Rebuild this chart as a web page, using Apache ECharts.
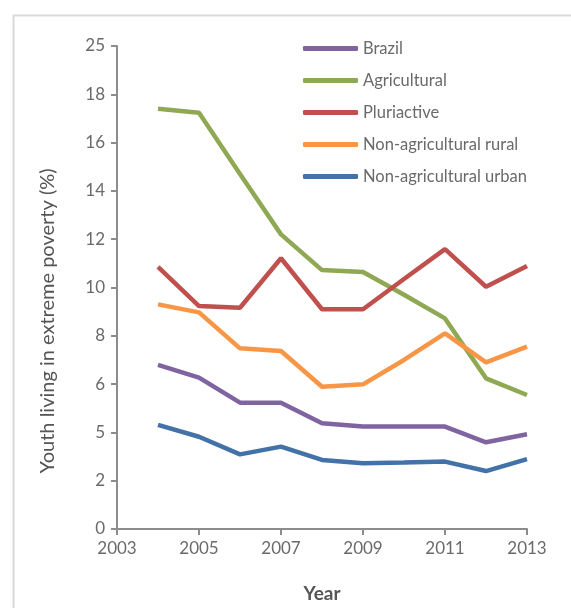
<!DOCTYPE html>
<html>
<head>
<meta charset="utf-8">
<script src="https://cdn.jsdelivr.net/npm/echarts@6/dist/echarts.min.js"></script>
<style>
  html, body { margin: 0; padding: 0; background: #fff; }
  #main { width: 571px; height: 608px; }
</style>
</head>
<body>
<div id="main"></div>
<script>
// years on the x axis
var years = [2004, 2005, 2006, 2007, 2008, 2009, 2010, 2011, 2012, 2013];

// values (in the plotted 0-20 scale)
var brazil       = [6.8, 6.27, 5.23, 5.23, 4.38, 4.24, 4.24, 4.24, 3.59, 3.92];
var agricultural = [17.4, 17.24, 14.7, 12.2, 10.72, 10.64, 9.7, 8.72, 6.24, 5.55];
var pluriactive  = [10.85, 9.23, 9.16, 11.21, 9.1, 9.1, 10.35, 11.59, 10.03, 10.89];
var nonAgRural   = [9.3, 8.97, 7.48, 7.37, 5.89, 5.99, 7.0, 8.1, 6.9, 7.55];
var nonAgUrban   = [4.31, 3.82, 3.09, 3.41, 2.86, 2.72, 2.75, 2.79, 2.4, 2.89];

// tick labels as printed on the original y axis
var yTickLabels = ['0', '2', '5', '6', '8', '10', '12', '14', '16', '18', '25'];

var names = ['Brazil', 'Agricultural', 'Pluriactive', 'Non-agricultural rural', 'Non-agricultural urban'];
var colors = ['#8064A2', '#8FA853', '#C0504D', '#F79646', '#4272A8'];
var sets = [brazil, agricultural, pluriactive, nonAgRural, nonAgUrban];

var txt = '#6a6a6a';
var axisCol = '#8c8c8c';
var font = 'Lato, "Open Sans", sans-serif';

var myChart = echarts.init(document.getElementById('main'));

var series = [];
for (var i = 0; i < sets.length; i++) {
    series.push({
        name: names[i],
        type: 'line',
        symbol: 'none',
        data: years.map(function (y, k) { return [y, sets[i][k]]; }),
        lineStyle: { color: colors[i], width: 4.5 },
        itemStyle: { color: colors[i] }
    });
}

var option = {
    animation: false,
    textStyle: { fontFamily: font },
    graphic: [
        {
            type: 'rect',
            left: 11, top: 13,
            shape: { width: 620, height: 700 },
            style: { fill: 'none', stroke: '#d9d9d9', lineWidth: 2 }
        },
        {
            type: 'text',
            x: 48, y: 321,
            rotation: Math.PI / 2,
            style: {
                text: 'Youth living in extreme poverty (%)',
                fill: '#555',
                font: '20px ' + font,
                align: 'center',
                verticalAlign: 'middle'
            }
        }
    ],
    legend: {
        orient: 'vertical',
        left: 298,
        top: 35,
        itemWidth: 55,
        itemHeight: 5,
        itemGap: 15,
        icon: 'roundRect',
        data: names,
        textStyle: { color: txt, fontSize: 16.5, fontFamily: font }
    },
    grid: {
        left: 117,
        right: 44,
        top: 46,
        bottom: 79,
        containLabel: false
    },
    xAxis: {
        type: 'value',
        min: 2003,
        max: 2013,
        interval: 2,
        name: 'Year',
        nameLocation: 'middle',
        nameGap: 55,
        nameTextStyle: { color: '#555', fontSize: 19, fontWeight: 'bold', fontFamily: font },
        splitLine: { show: false },
        axisLine: { lineStyle: { color: axisCol, width: 2 } },
        axisTick: { length: 6, lineStyle: { color: axisCol, width: 2 } },
        axisLabel: {
            color: txt, fontSize: 17, margin: 11, fontFamily: font,
            formatter: function (v) { return String(v); }
        }
    },
    yAxis: {
        type: 'value',
        min: 0,
        max: 20,
        interval: 2,
        splitLine: { show: false },
        axisLine: { show: true, lineStyle: { color: axisCol, width: 2 } },
        axisTick: { show: true, length: 6, lineStyle: { color: axisCol, width: 2 } },
        axisLabel: {
            color: txt, fontSize: 17, margin: 12, fontFamily: font,
            formatter: function (v) { return yTickLabels[Math.round(v / 2)]; }
        }
    },
    series: series
};
myChart.setOption(option);
</script>
</body>
</html>
